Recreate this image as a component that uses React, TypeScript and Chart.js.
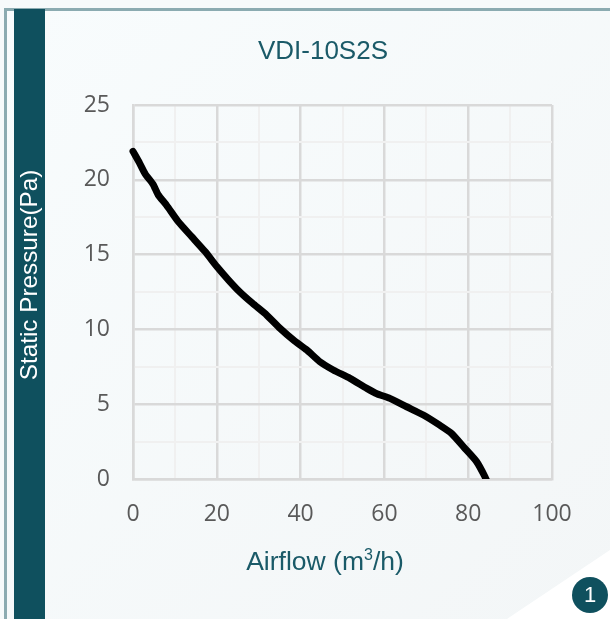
import React, { useEffect, useRef } from "react";
import { Chart, registerables } from "chart.js";

Chart.register(...registerables);

const chartTitle = "VDI-10S2S";
const yAxisTitle = "Static Pressure(Pa)";
const badgeLabel = "1";

const airflow = [0, 1.6, 2.9, 4.8, 6.0, 8.0, 10.8, 14, 17.2, 20, 22.8, 25.5, 28.5, 31.9, 35.1, 38.3, 41.5, 44.6, 47.8, 51.8, 55.8, 58.2, 61.3, 65.3, 69.3, 73.2, 76, 79.2, 82, 84, 85];
const pressure = [21.9, 21.1, 20.4, 19.7, 19.0, 18.3, 17.2, 16.2, 15.2, 14.2, 13.3, 12.5, 11.75, 10.96, 10.07, 9.29, 8.62, 7.84, 7.29, 6.73, 6.06, 5.7, 5.39, 4.83, 4.28, 3.6, 3.05, 2.05, 1.16, 0.15, -0.5];

const xMax = 100;
const xStep = 10;
const xLabelled = [0, 20, 40, 60, 80, 100];
const yMax = 25;
const yStep = 2.5;
const yLabelled = [0, 5, 10, 15, 20, 25];

const TEAL = "#0f505e";
const TITLE_TEAL = "#1a5a68";
const TICK = "#595959";
const MAJOR = "#d9d9d9";
const MINOR = "#f0f0f0";

export default function App() {
  const ref = useRef<HTMLCanvasElement | null>(null);

  useEffect(() => {
    if (!ref.current) return;
    const tickFont = { family: "'Open Sans'", size: 23 };
    const chart = new Chart(ref.current, {
      type: "scatter",
      data: {
        datasets: [
          {
            data: airflow.map((x, i) => ({ x, y: pressure[i] })),
            showLine: true,
            borderColor: "#000000",
            borderWidth: 7,
            borderJoinStyle: "round",
            borderCapStyle: "round",
            pointRadius: 0,
            tension: 0.2,
            clip: { left: 4, right: 0, top: 0, bottom: 0 },
          },
        ],
      },
      options: {
        responsive: false,
        animation: false,
        layout: { padding: { left: 0, right: 58, top: 105, bottom: 0 } },
        plugins: { legend: { display: false }, title: { display: false }, tooltip: { enabled: false } },
        scales: {
          x: {
            type: "linear",
            min: 0,
            max: xMax,
            afterFit: (s: any) => { s.height = 140; },
            ticks: {
              stepSize: xStep,
              autoSkip: false,
              maxRotation: 0,
              padding: 22,
              color: TICK,
              font: tickFont,
              callback: (v: any) => (xLabelled.includes(Number(v)) ? String(v) : ""),
            },
            grid: {
              drawTicks: false,
              lineWidth: (c: any) => (xLabelled.includes(c.tick?.value) ? 2.5 : 2),
              color: (c: any) => (xLabelled.includes(c.tick?.value) ? MAJOR : MINOR),
            },
            border: { color: MAJOR, width: 2.5 },
          },
          y: {
            type: "linear",
            min: 0,
            max: yMax,
            afterFit: (s: any) => { s.width = 133; },
            ticks: {
              stepSize: yStep,
              autoSkip: false,
              padding: 23,
              color: TICK,
              font: tickFont,
              callback: (v: any) => (yLabelled.includes(Number(v)) ? String(v) : ""),
            },
            grid: {
              drawTicks: false,
              lineWidth: (c: any) => (yLabelled.includes(c.tick?.value) ? 2.5 : 2),
              color: (c: any) => (yLabelled.includes(c.tick?.value) ? MAJOR : MINOR),
            },
            border: { color: MAJOR, width: 2.5 },
          },
        },
      },
    } as any);
    return () => chart.destroy();
  }, []);

  const abs: React.CSSProperties = { position: "absolute" };
  const sans = "'Liberation Sans', Arial, sans-serif";

  return (
    <div style={{ ...abs, left: 0, top: 0, width: 610, height: 619, overflow: "hidden", background: "#ffffff" }}>
      <div style={{ ...abs, left: 7, top: 11, right: 0, bottom: 0, background: "linear-gradient(135deg, #f8fcfd 0%, #f3f6f7 100%)" }} />
      <div style={{ ...abs, left: 0, top: 0, right: 0, height: 8, background: "#f6fafb" }} />
      <div style={{ ...abs, left: 0, top: 0, bottom: 0, width: 4, background: "#f6fafb" }} />
      <div style={{ ...abs, left: 4, top: 8, right: 0, height: 3, background: "#8babb1" }} />
      <div style={{ ...abs, left: 4, top: 8, bottom: 0, width: 3, background: "#8babb1" }} />
      <div style={{ ...abs, left: 14, top: 9, bottom: 0, width: 31, background: TEAL }} />
      <div style={{ ...abs, left: 0, top: 0, width: 610, height: 619, background: "#ffffff", clipPath: "polygon(507px 619px, 610px 550px, 610px 619px)" }} />
      <canvas ref={ref} width={610} height={619} style={{ ...abs, left: 0, top: 0, display: "block" }} />
      <div style={{ ...abs, left: 123, top: 35, width: 400, textAlign: "center", font: `26px/30px ${sans}`, color: TITLE_TEAL }}>{chartTitle}</div>
      <div style={{ ...abs, left: 125, top: 546, width: 400, textAlign: "center", font: `26.5px/30px ${sans}`, color: TITLE_TEAL }}>
        Airflow (m<sup style={{ fontSize: 16, lineHeight: 0 }}>3</sup>/h)
      </div>
      <div style={{ ...abs, left: 29, top: 275, width: 300, textAlign: "center", font: `24.3px/28px ${sans}`, color: "#ffffff", transform: "translate(-50%, -50%) rotate(-90deg)" }}>{yAxisTitle}</div>
      <div style={{ ...abs, left: 572, top: 577, width: 36, height: 36, borderRadius: "50%", background: TEAL, color: "#ffffff", textAlign: "center", font: `22px/36px ${sans}` }}>{badgeLabel}</div>
    </div>
  );
}
